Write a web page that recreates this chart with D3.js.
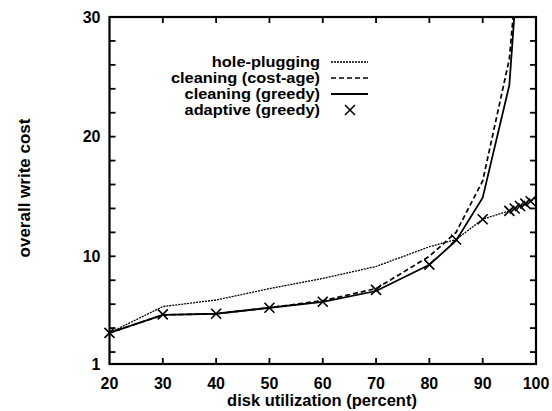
<!DOCTYPE html>
<html><head><meta charset="utf-8">
<script src="https://cdn.jsdelivr.net/npm/d3@7"></script>
<style>body{margin:0;background:#fff} text{font-family:"Liberation Sans",Arial,sans-serif;fill:#000;font-weight:bold}</style>
</head><body><svg id="c" width="552" height="411"></svg>
<script>
const xTicks=[20,30,40,50,60,70,80,90,100];
const yTickLabels=[1,10,20,30];
const yMinorTicks=[2,4,6,8,10,12,14,16,18,20,22,24,26,28];
const seriesNames=["hole-plugging","cleaning (cost-age)","cleaning (greedy)","adaptive (greedy)"];
const holeX=[20,30,40,50,60,70,80,85,90,95,96,97,98,99,100];
const holeY=[3.6,5.8,6.35,7.3,8.15,9.15,10.8,11.4,13.1,13.8,14.0,14.2,14.4,14.6,14.9];
const costAgeX=[20,30,40,50,60,70,80,85,90,95,96];
const costAgeY=[3.6,5.1,5.2,5.7,6.3,7.3,10.0,12.0,16.3,26.5,31.5];
const greedyX=[20,30,40,50,60,70,80,85,90,95,96];
const greedyY=[3.6,5.1,5.2,5.7,6.2,7.1,9.3,11.3,14.9,24.3,30.5];
const adaptiveX=[20,30,40,50,60,70,80,85,90,95,96,97,98,99];
const adaptiveY=[3.6,5.15,5.2,5.7,6.2,7.2,9.3,11.4,13.1,13.8,14.0,14.2,14.4,14.6];

const svg=d3.select("#c");
const L=109.5,R=536,T=17,B=364;
const x=d3.scaleLinear().domain([20,100]).range([L,R]);
const y=d3.scaleLinear().domain([1,30]).range([B,T]);

svg.append("clipPath").attr("id","clip").append("rect").attr("x",L).attr("y",T).attr("width",R-L).attr("height",B-T);

const tl=6;
const g=svg.append("g").attr("stroke","#000").attr("stroke-width",1.8);
xTicks.slice(1,-1).forEach(v=>{
  g.append("line").attr("x1",x(v)).attr("x2",x(v)).attr("y1",B).attr("y2",B-tl);
  g.append("line").attr("x1",x(v)).attr("x2",x(v)).attr("y1",T).attr("y2",T+tl);
});
yMinorTicks.forEach(v=>{
  g.append("line").attr("x1",L).attr("x2",L+tl).attr("y1",y(v)).attr("y2",y(v));
  g.append("line").attr("x1",R).attr("x2",R-tl).attr("y1",y(v)).attr("y2",y(v));
});
svg.append("rect").attr("x",L).attr("y",T).attr("width",R-L).attr("height",B-T)
  .attr("fill","none").attr("stroke","#000").attr("stroke-width",2.2);

svg.selectAll(".xl").data(xTicks).enter().append("text")
  .attr("x",d=>x(d)).attr("y",B+25).attr("text-anchor","middle")
  .attr("font-size",16).text(d=>d);
svg.selectAll(".yl").data(yTickLabels).enter().append("text")
  .attr("x",L-9).attr("y",d=>y(d)).attr("dy","0.35em").attr("text-anchor","end")
  .attr("font-size",16).text(d=>d);
svg.append("text").attr("x",322).attr("y",406).attr("text-anchor","middle").attr("font-size",16.5)
  .text("disk utilization (percent)");
svg.append("text").attr("transform","translate(30,188) rotate(-90)").attr("text-anchor","middle").attr("font-size",17)
  .text("overall write cost");

const line=d3.line().x(d=>x(d[0])).y(d=>y(d[1]));
const plot=svg.append("g").attr("clip-path","url(#clip)").attr("fill","none").attr("stroke","#000");
plot.append("path").datum(d3.zip(holeX,holeY)).attr("d",line).attr("stroke-width",1.3).attr("stroke-dasharray","2,1");
plot.append("path").datum(d3.zip(costAgeX,costAgeY)).attr("d",line).attr("stroke-width",1.7).attr("stroke-dasharray","5,3");
plot.append("path").datum(d3.zip(greedyX,greedyY)).attr("d",line).attr("stroke-width",1.8);
const ms=5;
function cross(sel,cx,cy){
  sel.append("path").attr("d",`M${cx-ms},${cy-ms}L${cx+ms},${cy+ms}M${cx-ms},${cy+ms}L${cx+ms},${cy-ms}`)
    .attr("stroke","#000").attr("stroke-width",1.6).attr("fill","none");
}
const mk=svg.append("g");
d3.zip(adaptiveX,adaptiveY).forEach(d=>cross(mk,x(d[0]),y(d[1])));

// legend
const ly=[62,78,94,110];
const lg=svg.append("g");
seriesNames.forEach((n,i)=>{
  lg.append("text").attr("transform",`translate(320,${ly[i]}) scale(1.17,1)`).attr("dy","0.35em")
    .attr("text-anchor","end").attr("font-size",14).text(n);
});
lg.append("line").attr("x1",331).attr("x2",368).attr("y1",ly[0]).attr("y2",ly[0]).attr("stroke","#000").attr("stroke-width",1.3).attr("stroke-dasharray","2,1");
lg.append("line").attr("x1",331).attr("x2",368).attr("y1",ly[1]).attr("y2",ly[1]).attr("stroke","#000").attr("stroke-width",1.7).attr("stroke-dasharray","5,3");
lg.append("line").attr("x1",331).attr("x2",368).attr("y1",ly[2]).attr("y2",ly[2]).attr("stroke","#000").attr("stroke-width",1.8);
cross(lg,350,ly[3]);
</script></body></html>
